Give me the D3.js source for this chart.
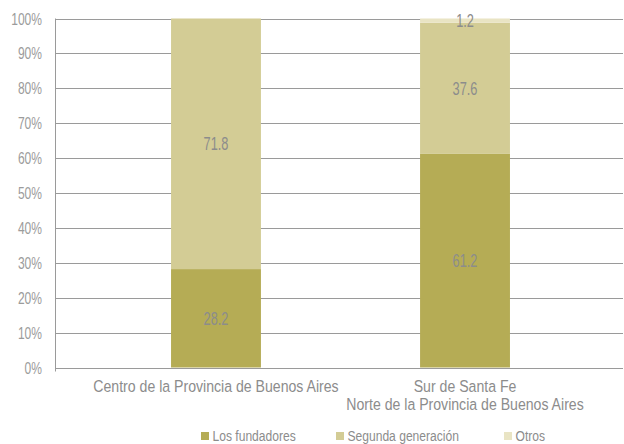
<!DOCTYPE html>
<html>
<head>
<meta charset="utf-8">
<script src="https://cdn.jsdelivr.net/npm/d3@7"></script>
<style>
  body { margin: 0; background: #fff; }
  svg text { font-family: "Liberation Sans", Arial, sans-serif; }
</style>
</head>
<body>
<div id="chart"></div>
<script>
/* stacked share of generations by region */

const regions = [
  ['Centro de la Provincia de Buenos Aires'],
  ['Sur de Santa Fe', 'Norte de la Provincia de Buenos Aires'],
];
const regionKeys = ['centro', 'sur'];
const seriesNames = ['Los fundadores', 'Segunda generación', 'Otros'];
const fundadores = [28.2, 61.2];
const segunda    = [71.8, 37.6];
const otros      = [0, 1.2];
const yTicks = [0, 10, 20, 30, 40, 50, 60, 70, 80, 90, 100];
const colors = ['#b5ac55', '#d3cc95', '#e9e4c4'];

// ── layout ───────────────────────────────────────────────────
const W = 624, H = 444;
const ML = 55, MR = 0, MT = 18.5, MB = 76.5;
const plotH = H - MT - MB;

const svg = d3.select('#chart').append('svg')
  .attr('width', W).attr('height', H);

// condensed look: horizontally squeezed text
function label(parent, x, y, str, size, sx, anchor, fill) {
  return parent.append('text')
    .attr('transform', `translate(${x},${y}) scale(${sx},1)`)
    .attr('text-anchor', anchor).attr('font-size', size).attr('fill', fill)
    .text(str);
}

const x = d3.scaleBand().domain(regionKeys)
  .range([ML, W - MR + 2]).paddingInner(0.639).paddingOuter(0.466);
const y = d3.scaleLinear().domain([0, 100]).range([MT + plotH, MT]);

// grid
svg.append('g').selectAll('line').data(yTicks).join('line')
  .attr('x1', ML).attr('x2', W - 1)
  .attr('y1', d => Math.round(y(d)) + 0.5).attr('y2', d => Math.round(y(d)) + 0.5)
  .attr('stroke', '#9a9a9a').attr('stroke-width', 1);

// y axis line
svg.append('line')
  .attr('x1', ML + 0.5).attr('x2', ML + 0.5)
  .attr('y1', y(100)).attr('y2', y(0) + 4)
  .attr('stroke', '#9a9a9a');

const tickG = svg.append('g');
yTicks.forEach(t => label(tickG, 42, y(t) + 6, t + '%', 16.5, 0.73, 'end', '#9b9b9b'));

// ── stacks ───────────────────────────────────────────────────
const table = regionKeys.map((k, i) => ({
  key: k, s0: fundadores[i], s1: segunda[i], s2: otros[i],
}));
const stack = d3.stack().keys(['s0', 's1', 's2'])(table);

const layers = svg.append('g').selectAll('g').data(stack).join('g')
  .attr('fill', (d, i) => colors[i]);

layers.selectAll('rect').data(d => d).join('rect')
  .attr('x', d => x(d.data.key))
  .attr('width', x.bandwidth())
  .attr('y', d => y(d[1]))
  .attr('height', d => y(d[0]) - y(d[1]));

// value labels
const labelG = svg.append('g');
stack.forEach(layer => {
  layer.forEach(d => {
    const v = d[1] - d[0];
    if (v <= 0) return;
    label(labelG, x(d.data.key) + x.bandwidth() / 2, y((d[0] + d[1]) / 2) + 6.5,
      v.toFixed(1), 17.5, 0.73, 'middle', '#8c8c8c');
  });
});

// category labels
const catG = svg.append('g');
regions.forEach((lines, i) => {
  lines.forEach((ln, j) => {
    label(catG, x(regionKeys[i]) + x.bandwidth() / 2, 392 + j * 18, ln,
      17, 0.83, 'middle', '#8c8c8c');
  });
});

// ── legend ───────────────────────────────────────────────────
const legendX = [201, 336, 504];
const legend = svg.append('g');
seriesNames.forEach((name, i) => {
  legend.append('rect')
    .attr('x', legendX[i]).attr('y', 432).attr('width', 8).attr('height', 8)
    .attr('fill', colors[i]);
  label(legend, legendX[i] + 11.5, 440.5, name, 15.5, 0.78, 'start', '#8c8c8c');
});
</script>
</body>
</html>
